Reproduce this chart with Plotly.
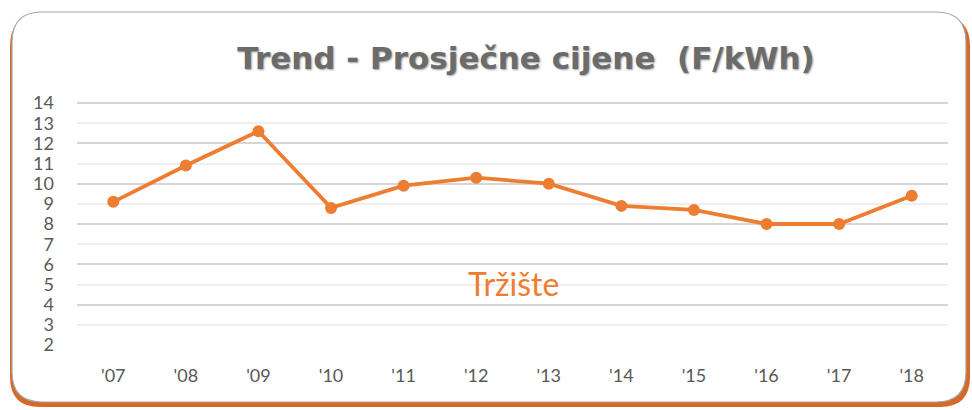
import plotly.graph_objects as go

years = ["'07", "'08", "'09", "'10", "'11", "'12", "'13", "'14", "'15", "'16", "'17", "'18"]
prices = [9.1, 10.9, 12.6, 8.8, 9.9, 10.3, 10.0, 8.9, 8.7, 8.0, 8.0, 9.4]
y_ticks = list(range(2, 15))
y_major = list(range(2, 15, 2))

W, H = 972, 410
ML, MR, MT, MB = 77, 24, 97, 65
PW, PH = W - ML - MR, H - MT - MB


def px(x):
    return (x - ML) / PW


def py(y):
    return 1 - (y - MT) / PH


def rrect(x0, y0, x1, y1, r):
    return (f"M {px(x0 + r)} {py(y0)} L {px(x1 - r)} {py(y0)} "
            f"Q {px(x1)} {py(y0)} {px(x1)} {py(y0 + r)} "
            f"L {px(x1)} {py(y1 - r)} Q {px(x1)} {py(y1)} {px(x1 - r)} {py(y1)} "
            f"L {px(x0 + r)} {py(y1)} Q {px(x0)} {py(y1)} {px(x0)} {py(y1 - r)} "
            f"L {px(x0)} {py(y0 + r)} Q {px(x0)} {py(y0)} {px(x0 + r)} {py(y0)} Z")


fig = go.Figure()
fig.add_trace(go.Scatter(
    x=years, y=prices, mode="lines+markers",
    line=dict(color="#ED7D31", width=3.8),
    marker=dict(color="#ED7D31", size=12),
    showlegend=False, hoverinfo="skip",
))
fig.add_trace(go.Scatter(x=years, y=prices, yaxis="y2", mode="lines",
                         line=dict(width=0), opacity=0, showlegend=False, hoverinfo="skip"))

shapes = [
    dict(type="path", path=rrect(10, 16, 970, 407, 30), xref="paper", yref="paper",
         fillcolor="#D56A28", line=dict(width=0), layer="below"),
    dict(type="path", path=rrect(12, 12, 966, 402, 30), xref="paper", yref="paper",
         fillcolor="white", line=dict(color="#A6A6A6", width=1.2), layer="below"),
]

fig.update_layout(
    width=W, height=H,
    margin=dict(l=ML, r=MR, t=MT, b=MB, autoexpand=False),
    paper_bgcolor="white", plot_bgcolor="rgba(0,0,0,0)",
    shapes=shapes,
    title=dict(
        text="Trend - Prosječne cijene  (F/kWh)",
        x=526 / W, xref="container", xanchor="center",
        y=1 - 58 / H, yref="container", yanchor="middle",
        font=dict(family="DejaVu Sans, Verdana", size=31, color="#6B6B6B",
                  weight="bold", shadow="1px 1px 2px #a0a0a0"),
    ),
    xaxis=dict(
        type="category", range=[-0.5, 11.5], automargin=False,
        showgrid=False, zeroline=False, showline=False, ticks="",
        tickfont=dict(family="Lato, Open Sans", size=18, color="#595959"),
        ticklabelstandoff=18,
    ),
    yaxis=dict(
        range=[2, 14.3], tickvals=y_ticks, ticktext=[str(v) for v in y_ticks],
        automargin=False,
        showgrid=True, gridcolor="#EFEFEF", gridwidth=1.5,
        zeroline=False, showline=False, ticks="",
        tickfont=dict(family="Lato, Open Sans", size=18, color="#595959"),
        ticklabelstandoff=22,
    ),
    yaxis2=dict(
        range=[2, 14.3], tickvals=y_major, overlaying="y", side="left",
        automargin=False,
        showgrid=True, gridcolor="#D6D6D6", gridwidth=1.5,
        showticklabels=False, zeroline=False, showline=False, ticks="",
    ),
    annotations=[
        dict(text="Tržište", x=px(513), y=py(283), xref="paper", yref="paper",
             showarrow=False, xanchor="center", yanchor="middle",
             font=dict(family="Lato, Open Sans", size=32, color="#ED7D31")),
    ],
)

fig.write_html("out.html", config={"displayModeBar": False},
               post_script="document.body.style.margin='0';document.body.style.padding='0';"
                           "document.documentElement.style.overflow='hidden';")
